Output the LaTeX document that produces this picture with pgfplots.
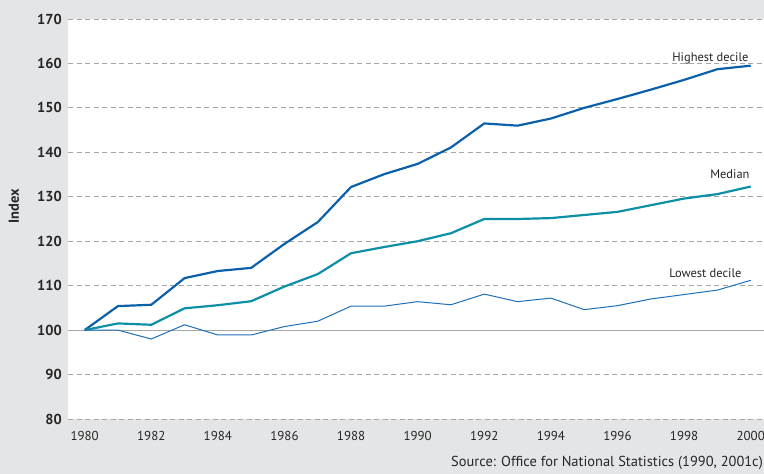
\documentclass[border=0pt]{standalone}
\usepackage{pgfplots}
\pgfplotsset{compat=1.18}
\usepackage{fontspec}
\setmainfont{PT Sans}
\definecolor{bggrey}{HTML}{E4E5E7}
\definecolor{hicol}{HTML}{0B60AA}
\definecolor{medcol}{HTML}{0D8FA6}
\definecolor{locol}{HTML}{1E6FBA}
\definecolor{gridgrey}{HTML}{A6A6A6}
\begin{document}
\begin{tikzpicture}[x=1bp,y=1bp]
\fill[bggrey] (0,0) rectangle (764,474);
\useasboundingbox (0,0) rectangle (764,474);
\begin{axis}[
  at={(68bp,55bp)}, anchor=south west,
  scale only axis, width=696bp, height=400bp,
  xmin=1979.5, xmax=2000.4, ymin=80, ymax=170,
  axis background/.style={fill=white},
  axis line style={draw=none},
  xtick={1980,1982,...,2000},
  xticklabels={1980,1982,1984,1986,1988,1990,1992,1994,1996,1998,2000},
  ytick={80,90,110,120,130,140,150,160,170},
  extra y ticks={100},
  extra y tick style={ymajorgrids=true, major grid style={solid, gridgrey, line width=1pt}},
  ymajorgrids=true,
  major grid style={dashed, gridgrey, line width=0.9pt, dash pattern=on 5bp off 3.5bp},
  major tick length=0pt,
  tick style={draw=none},
  yticklabel style={font=\fontsize{14.5}{14.5}\selectfont\bfseries, text=black!85, inner sep=0pt, xshift=-6bp},
  xticklabel style={font=\fontsize{13}{13}\selectfont, text=black!85, inner sep=0pt, yshift=-12bp},
  /pgf/number format/assume math mode=true,
  /pgf/number format/1000 sep={},
  clip=false,
]
\addplot[hicol, line width=2.2pt] coordinates {
(1980,100) (1981,105.4) (1982,105.7) (1983,111.7) (1984,113.3) (1985,114.0)
(1986,119.4) (1987,124.3) (1988,132.2) (1989,135.1) (1990,137.4) (1991,141.1)
(1992,146.5) (1993,146.0) (1994,147.6) (1995,150.0) (1996,152.0) (1997,154.1)
(1998,156.3) (1999,158.7) (2000,159.5)};
\addplot[medcol, line width=2.2pt] coordinates {
(1980,100) (1981,101.5) (1982,101.2) (1983,104.9) (1984,105.6) (1985,106.5)
(1986,109.8) (1987,112.6) (1988,117.3) (1989,118.7) (1990,120.0) (1991,121.8)
(1992,125.0) (1993,125.0) (1994,125.2) (1995,125.9) (1996,126.6) (1997,128.1)
(1998,129.6) (1999,130.6) (2000,132.3)};
\addplot[locol, line width=1pt] coordinates {
(1980,100) (1981,100.0) (1982,98.0) (1983,101.2) (1984,98.9) (1985,98.9)
(1986,100.8) (1987,102.0) (1988,105.4) (1989,105.4) (1990,106.4) (1991,105.7)
(1992,108.1) (1993,106.4) (1994,107.2) (1995,104.6) (1996,105.5) (1997,107.0)
(1998,108.0) (1999,109.0) (2000,111.2)};
\node[anchor=base east, inner sep=0pt, font=\fontsize{12.5}{12.5}\selectfont, text=black!85] at (axis cs:1999.94,160.5) {Highest decile};
\node[anchor=base east, inner sep=0pt, font=\fontsize{12.5}{12.5}\selectfont, text=black!85] at (axis cs:1999.97,134.0) {Median};
\node[anchor=base east, inner sep=0pt, font=\fontsize{12.5}{12.5}\selectfont, text=black!85] at (axis cs:1999.73,111.9) {Lowest decile};
\end{axis}
\node[rotate=90, font=\fontsize{14.5}{14.5}\selectfont\bfseries, text=black!85, inner sep=0pt] at (14,268) {Index};
\node[anchor=base east, inner sep=0pt, font=\fontsize{14.5}{14.5}\selectfont, text=black!85] at (763,7) {Source: Office for National Statistics (1990, 2001c)};
\end{tikzpicture}
\end{document}
